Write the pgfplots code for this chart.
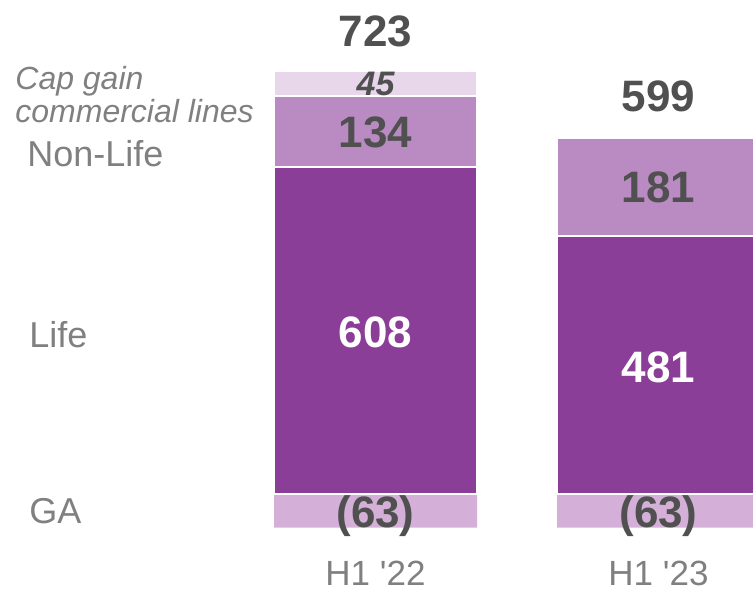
\documentclass[border=0pt]{standalone}
\usepackage{pgfplots}
\pgfplotsset{compat=1.18}
\usepackage{fontspec}
\setmainfont{Liberation Sans}
\definecolor{life}{HTML}{8B3E97}
\definecolor{nonlife}{HTML}{BA8AC2}
\definecolor{capgain}{HTML}{E8D6EB}
\definecolor{ga}{HTML}{D4B0D8}
\definecolor{numtext}{HTML}{505050}
\definecolor{labtext}{HTML}{808080}
\pgfplotsset{base/.style={scale only axis, width=376.5pt, height=295pt,
  xmin=0, xmax=753, ymin=-179, ymax=920, hide axis, at={(0,0)}, anchor=south west}}
\begin{document}
\begin{tikzpicture}
% GA (negative) bars
\begin{axis}[base, ybar, bar width=101.5pt, bar shift=0pt]
\addplot[fill=ga, draw=none] coordinates {(375.5,-63) (658.5,-63)};
\end{axis}
\begin{axis}[base, ybar stacked, bar width=101.5pt]
\addplot[fill=life, draw=white, line width=1pt] coordinates {(375.5,608) (658.5,481)};
\addplot[fill=nonlife, draw=white, line width=1pt] coordinates {(375.5,134) (658.5,181)};
\addplot[fill=capgain, draw=white, line width=1pt] coordinates {(375.5,45) (658.5,0)};
\end{axis}
\begin{axis}[base, clip=false]
\addplot[draw=none] coordinates {(0,0)};
% value labels
\tikzset{num/.style={inner sep=0pt, anchor=base, text=numtext, font=\fontsize{22}{26}\selectfont\bfseries}}
\node[num] at (axis cs:375.5,832.5) {723};
\node[num, font=\fontsize{17}{20}\selectfont\bfseries\itshape] at (axis cs:375.5,743) {45};
\node[num] at (axis cs:375.5,646) {134};
\node[num, text=white] at (axis cs:375.5,273.6) {608};
\node[num] at (axis cs:375.5,-63.5) {(63)};
\node[num] at (axis cs:658.5,711.4) {599};
\node[num] at (axis cs:658.5,542) {181};
\node[num, text=white] at (axis cs:658.5,206.6) {481};
\node[num] at (axis cs:658.5,-63.5) {(63)};
% category labels
\tikzset{cat/.style={inner sep=0pt, anchor=base, text=labtext, font=\fontsize{17.5}{21}\selectfont}}
\node[cat] at (axis cs:375.5,-170) {H1 \textquotesingle22};
\node[cat] at (axis cs:658.5,-170) {H1 \textquotesingle23};
% series labels
\tikzset{ser/.style={inner sep=0pt, anchor=base west, text=labtext, font=\fontsize{18}{22}\selectfont}}
\node[ser, font=\fontsize{16}{19}\selectfont\itshape] at (axis cs:15,754) {Cap gain};
\node[ser, font=\fontsize{16}{19}\selectfont\itshape] at (axis cs:15,692.7) {commercial lines};
\node[ser] at (axis cs:27,609) {Non-Life};
\node[ser] at (axis cs:29,273.6) {Life};
\node[ser] at (axis cs:29,-54.2) {GA};
\end{axis}
\pgfresetboundingbox
\path (0,0) rectangle (376.5pt,295pt);
\end{tikzpicture}
\end{document}
